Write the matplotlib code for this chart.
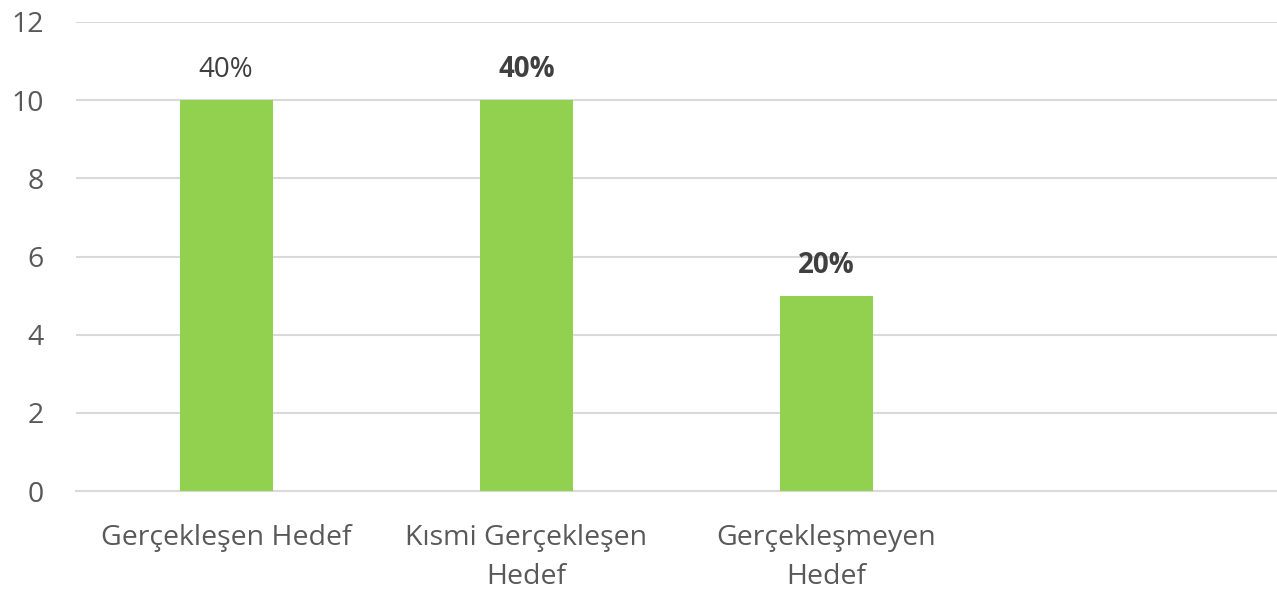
import matplotlib.pyplot as plt

plt.rcParams['font.family'] = ['Open Sans', 'DejaVu Sans']

categories = ['Gerçekleşen Hedef', 'Kısmi Gerçekleşen\nHedef', 'Gerçekleşmeyen\nHedef', '']
values = [10, 10, 5]
percent_labels = ['40%', '40%', '20%']
label_bold = [False, True, True]

fig = plt.figure(figsize=(12.77, 5.91), dpi=100)
ax = fig.add_axes([76 / 1277, 1 - 491 / 591, 1201 / 1277, 469 / 591])

x = list(range(len(values)))
ax.bar(x, values, width=0.31, color='#92D050', zorder=3)

for xi, v, lab, b in zip(x, values, percent_labels, label_bold):
    ax.annotate(lab, (xi, v), xytext=(0, 16.5), textcoords='offset points',
                ha='center', va='baseline', fontsize=20, color='#404040',
                fontweight='bold' if b else 'normal', zorder=4)

ax.set_xlim(-0.5, 3.5)
ax.set_ylim(0, 12)
ax.set_yticks(range(0, 13, 2))
ax.set_xticks(range(len(categories)))
ax.set_xticklabels(categories, fontsize=20.5, color='#595959', linespacing=1.5)
ax.tick_params(axis='y', labelsize=20.5, labelcolor='#595959', length=0, pad=23)
ax.tick_params(axis='x', length=0, pad=24)
ax.grid(axis='y', color='#D9D9D9', linewidth=1.5, zorder=0)
for s in ['top', 'right', 'left']:
    ax.spines[s].set_visible(False)
ax.spines['bottom'].set_color('#D9D9D9')
ax.spines['bottom'].set_linewidth(1.5)

fig.savefig('out.png', dpi=100)
